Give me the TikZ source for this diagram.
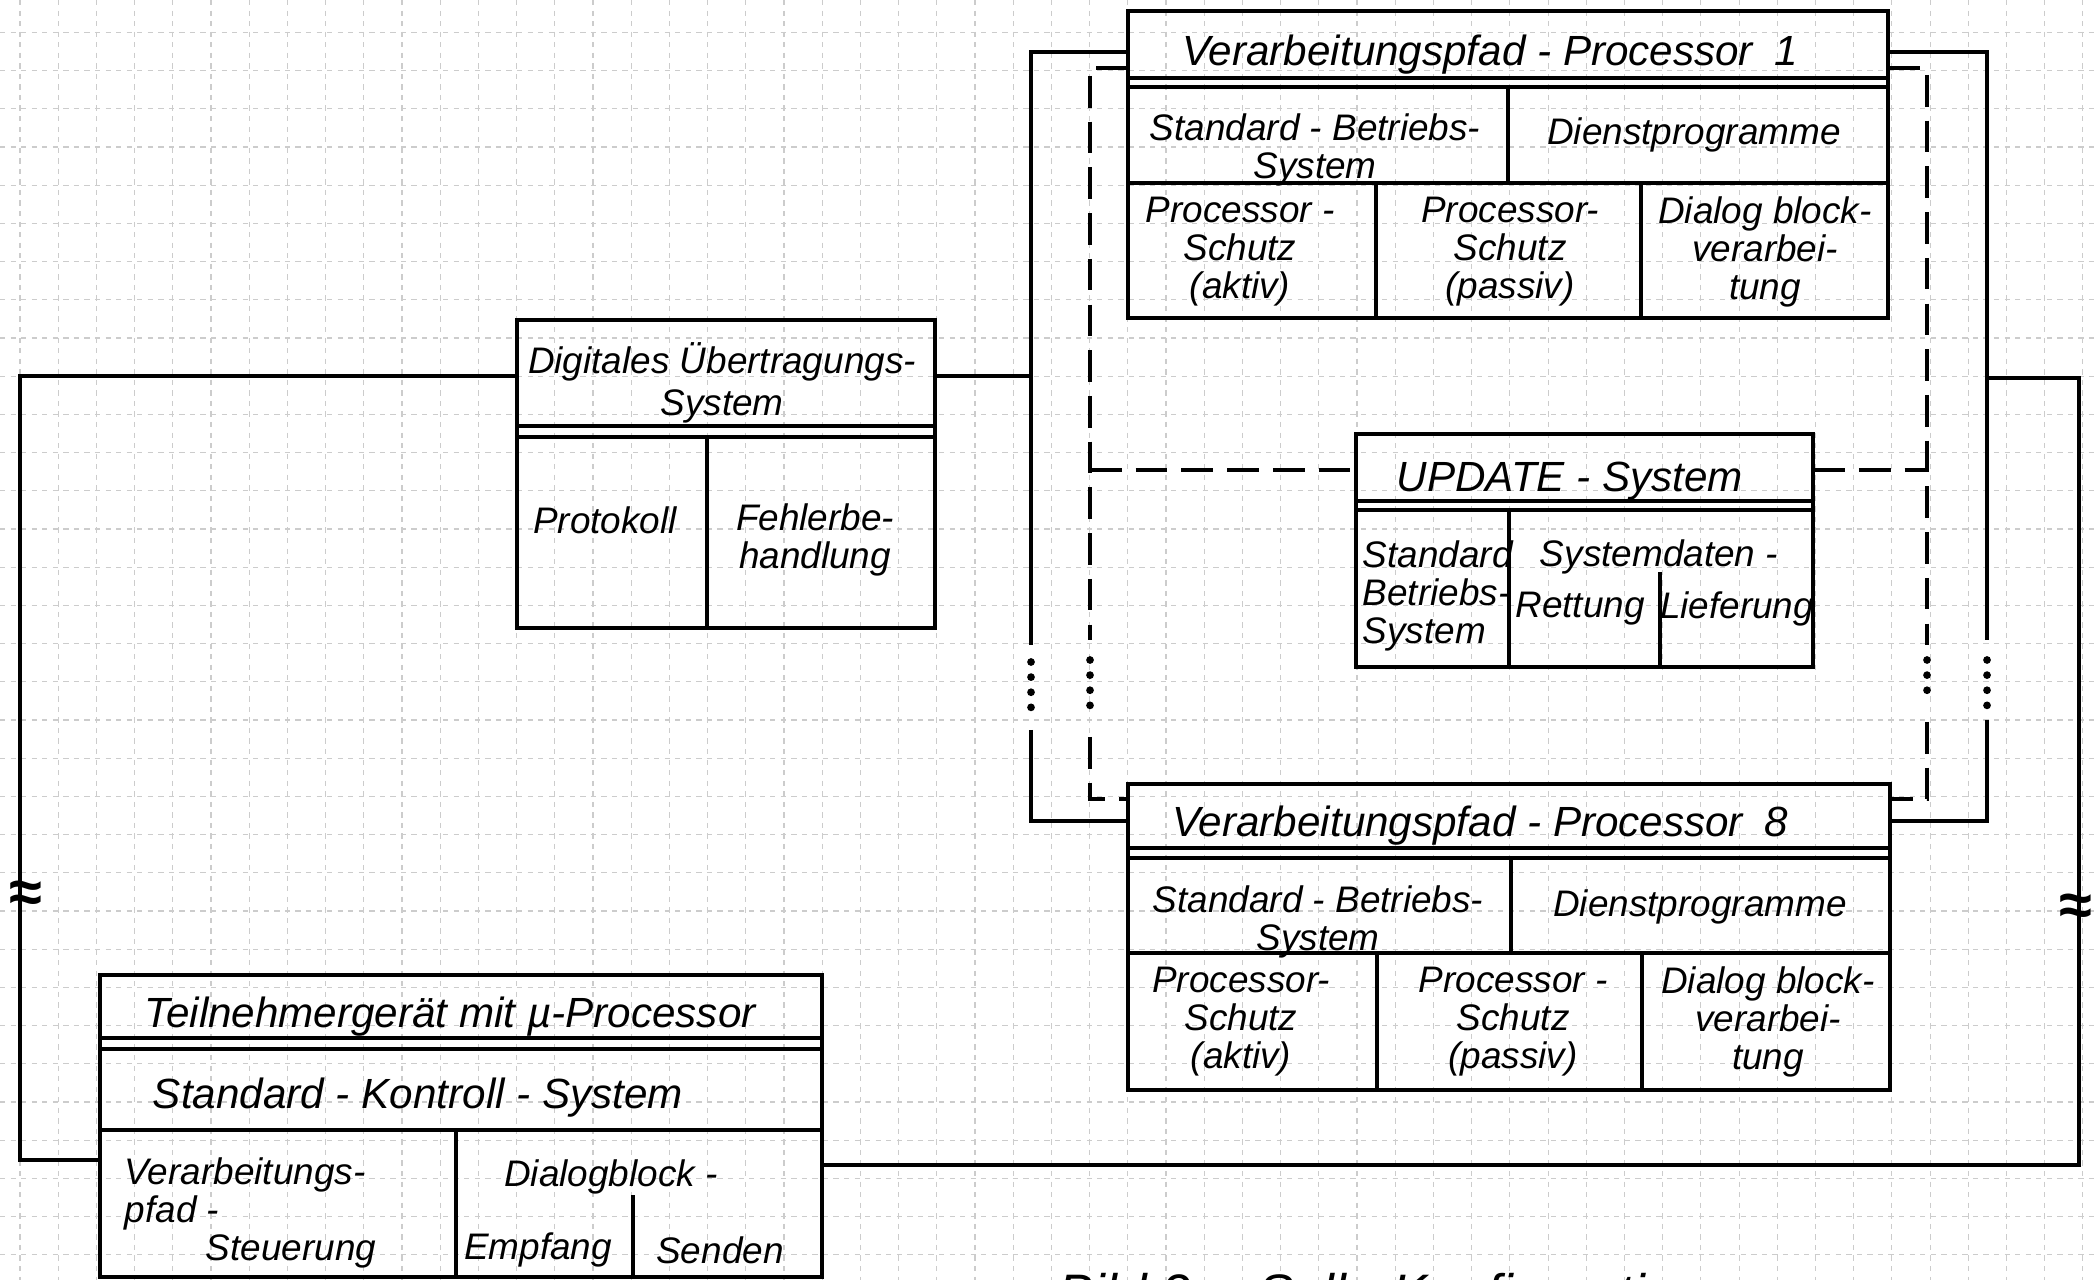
\documentclass[tikz,border=0pt]{standalone}
\usepackage{fontspec}
\setmainfont{Liberation Sans}
\usepackage{tikz}

\newcommand{\handtxt}{\fontsize{10.5}{10.8}\selectfont\itshape}
\newcommand{\handbig}{\fontsize{12}{13}\selectfont\itshape}

\begin{document}
\begin{tikzpicture}[
    x=0.01cm, y=-0.01cm,
    box/.style={draw, line width=1.1pt, inner sep=0pt, outer sep=0pt},
    divider/.style={line width=1pt},
    cell/.style={font=\handtxt, align=center, inner sep=0pt},
    title/.style={font=\handbig, inner sep=0pt},
    link/.style={line width=1.1pt},
    dashlink/.style={line width=1.1pt, dash pattern=on 9pt off 4pt},
    dotlink/.style={line width=2.2pt, line cap=round, dash pattern=on 0pt off 4.3pt},
    gridline/.style={gray!40, line width=0.3pt, dash pattern=on 1.5pt off 1.5pt},
    brk/.style={font=\fontsize{17}{17}\selectfont\bfseries, inner sep=0pt}
]
\useasboundingbox (0,0) rectangle (2095,1280);
\clip (0,0) rectangle (2095,1280);

% graph paper
\foreach \gx in {0,...,54}
    \draw[gridline] ({20+38.2*\gx},0) -- ({20+38.2*\gx},1280);
\foreach \gy in {0,...,33}
    \draw[gridline] (0,{32.4+38.2*\gy}) -- (2095,{32.4+38.2*\gy});

% boxes
\node[box, minimum width=7.6cm, minimum height=3.07cm] (p1) at (1508,164.5) {};
\node[box, minimum width=7.62cm, minimum height=3.06cm] (p8) at (1509,937) {};
\node[box, minimum width=4.57cm, minimum height=2.33cm] (upd) at (1584.5,550.5) {};
\node[box, minimum width=4.18cm, minimum height=3.08cm] (dues) at (726,474) {};
\node[box, minimum width=7.22cm, minimum height=3.02cm] (tn) at (461,1126) {};

% Verarbeitungspfad - Processor 1
\draw[divider] (1128,78) -- (1888,78);
\draw[divider] (1128,87) -- (1888,87);
\draw[divider] (1128,183) -- (1888,183);
\draw[divider] (1508,87) -- (1508,183);
\draw[divider] (1376,183) -- (1376,318);
\draw[divider] (1641,183) -- (1641,318);
\node[title] (p1title) at (1490,55) {Verarbeitungspfad - Processor\enspace 1};
\node[cell] (p1std) at (1315,150) {Standard - Betriebs-\\System};
\node[cell] (p1dienst) at (1694,135) {Dienstprogramme};
\node[cell] (p1aktiv) at (1240,252) {Processor -\\Schutz\\(aktiv)};
\node[cell] (p1passiv) at (1510,252) {Processor-\\Schutz\\(passiv)};
\node[cell] (p1dialog) at (1765,252) {Dialog block-\\verarbei-\\tung};

% Verarbeitungspfad - Processor 8
\draw[divider] (1128,848) -- (1890,848);
\draw[divider] (1128,858) -- (1890,858);
\draw[divider] (1128,953) -- (1890,953);
\draw[divider] (1511,858) -- (1511,953);
\draw[divider] (1377,953) -- (1377,1090);
\draw[divider] (1642,953) -- (1642,1090);
\node[title] (p8title) at (1480,826) {Verarbeitungspfad - Processor\enspace 8};
\node[cell] (p8std) at (1318,922) {Standard - Betriebs-\\System};
\node[cell] (p8dienst) at (1700,907) {Dienstprogramme};
\node[cell] (p8aktiv) at (1241,1022) {Processor-\\Schutz\\(aktiv)};
\node[cell] (p8passiv) at (1513,1022) {Processor -\\Schutz\\(passiv)};
\node[cell] (p8dialog) at (1768,1022) {Dialog block-\\verarbei-\\tung};

% UPDATE - System
\draw[divider] (1356,501) -- (1813,501);
\draw[divider] (1356,510) -- (1813,510);
\draw[divider] (1509,510) -- (1509,667);
\draw[divider] (1660,572) -- (1660,667);
\node[title] (updtitle) at (1570,481) {UPDATE - System};
\node[cell, align=left, anchor=west] (updstd) at (1362,596) {Standard\\Betriebs-\\System};
\node[cell] (upddat) at (1659,557) {Systemdaten -};
\node[cell] (updrett) at (1580,609) {Rettung};
\node[cell] (updlief) at (1737,609) {Lieferung};

% Digitales Uebertragungs-System
\draw[divider] (517,426) -- (935,426);
\draw[divider] (517,437) -- (935,437);
\draw[divider] (707,437) -- (707,628);
\node[cell, font=\fontsize{10.5}{12}\selectfont\itshape] (duestitle) at (722,383) {Digitales Übertragungs-\\System};
\node[cell] (duesprot) at (605,520) {Protokoll};
\node[cell] (duesfehl) at (815,540) {Fehlerbe-\\handlung};

% Teilnehmergeraet
\draw[divider] (100,1038) -- (822,1038);
\draw[divider] (100,1049) -- (822,1049);
\draw[divider] (100,1130) -- (822,1130);
\draw[divider] (456,1130) -- (456,1277);
\draw[divider] (633,1195) -- (633,1277);
\node[title] (tntitle) at (450,1017) {Teilnehmergerät mit µ-Processor};
\node[title] (tnstd) at (418,1098) {Standard - Kontroll - System};
\node[cell, align=left, anchor=west] (tnsteu) at (124,1213) {Verarbeitungs-\\pfad -\\\hspace*{2.2em}Steuerung};
\node[cell] (tndlg) at (611,1177) {Dialogblock -};
\node[cell] (tnemp) at (538,1250) {Empfang};
\node[cell] (tnsend) at (720,1250) {Senden};

% loop points
\coordinate (lTop) at (20,376);
\coordinate (lBot) at (20,1160);
\coordinate (sTL) at (1031,52);
\coordinate (sBL) at (1031,821);
\coordinate (sTR) at (1987,52);
\coordinate (sBR) at (1987,821);
\coordinate (rTop) at (2079,378);
\coordinate (rBot) at (2079,1165);
\coordinate (dTL) at (1090,68);
\coordinate (dBL) at (1090,799);
\coordinate (dTR) at (1927,68);
\coordinate (dBR) at (1927,799);
\coordinate (updL) at (1090,470);
\coordinate (updR) at (1927,470);

% solid connections
\draw[link] (dues.west |- lTop) -- (lTop) -- (lBot) -- (tn.west |- lBot);
\draw[link] (dues.east |- lTop) -- (sTL |- lTop);
\draw[link] (p1.west |- sTL) -- (sTL) -- (1031,645);
\draw[dotlink] (1031,662) -- (1031,718);
\draw[link] (1031,730) -- (sBL) -- (p8.west |- sBL);
\draw[link] (p1.east |- sTR) -- (sTR) -- (1987,640);
\draw[dotlink] (1987,660) -- (1987,714);
\draw[link] (1987,720) -- (sBR) -- (p8.east |- sBR);
\draw[link] (sTR |- rTop) -- (rTop) -- (rBot) -- (tn.east |- rBot);

% dashed connections
\draw[dashlink] (p1.west |- dTL) -- (dTL) -- (1090,640);
\draw[dotlink] (1090,660) -- (1090,718);
\draw[dashlink] (1090,737) -- (dBL) -- (p8.west |- dBL);
\draw[dashlink] (p1.east |- dTR) -- (dTR) -- (1927,645);
\draw[dotlink] (1927,660) -- (1927,702);
\draw[dashlink] (1927,722) -- (dBR) -- (p8.east |- dBR);
\draw[dashlink] (updL) -- (upd.west |- updL);
\draw[dashlink] (upd.east |- updR) -- (updR);

% breaks
\node[brk] (wavL) at (26,897) {≈};
\node[brk] (wavR) at (2076,910) {≈};

\node[font=\fontsize{15}{15}\selectfont\itshape, anchor=base west, inner sep=0pt] (caption) at (1058,1311) {Bild 2:\quad Soll - Konfiguration};
\end{tikzpicture}
\end{document}
